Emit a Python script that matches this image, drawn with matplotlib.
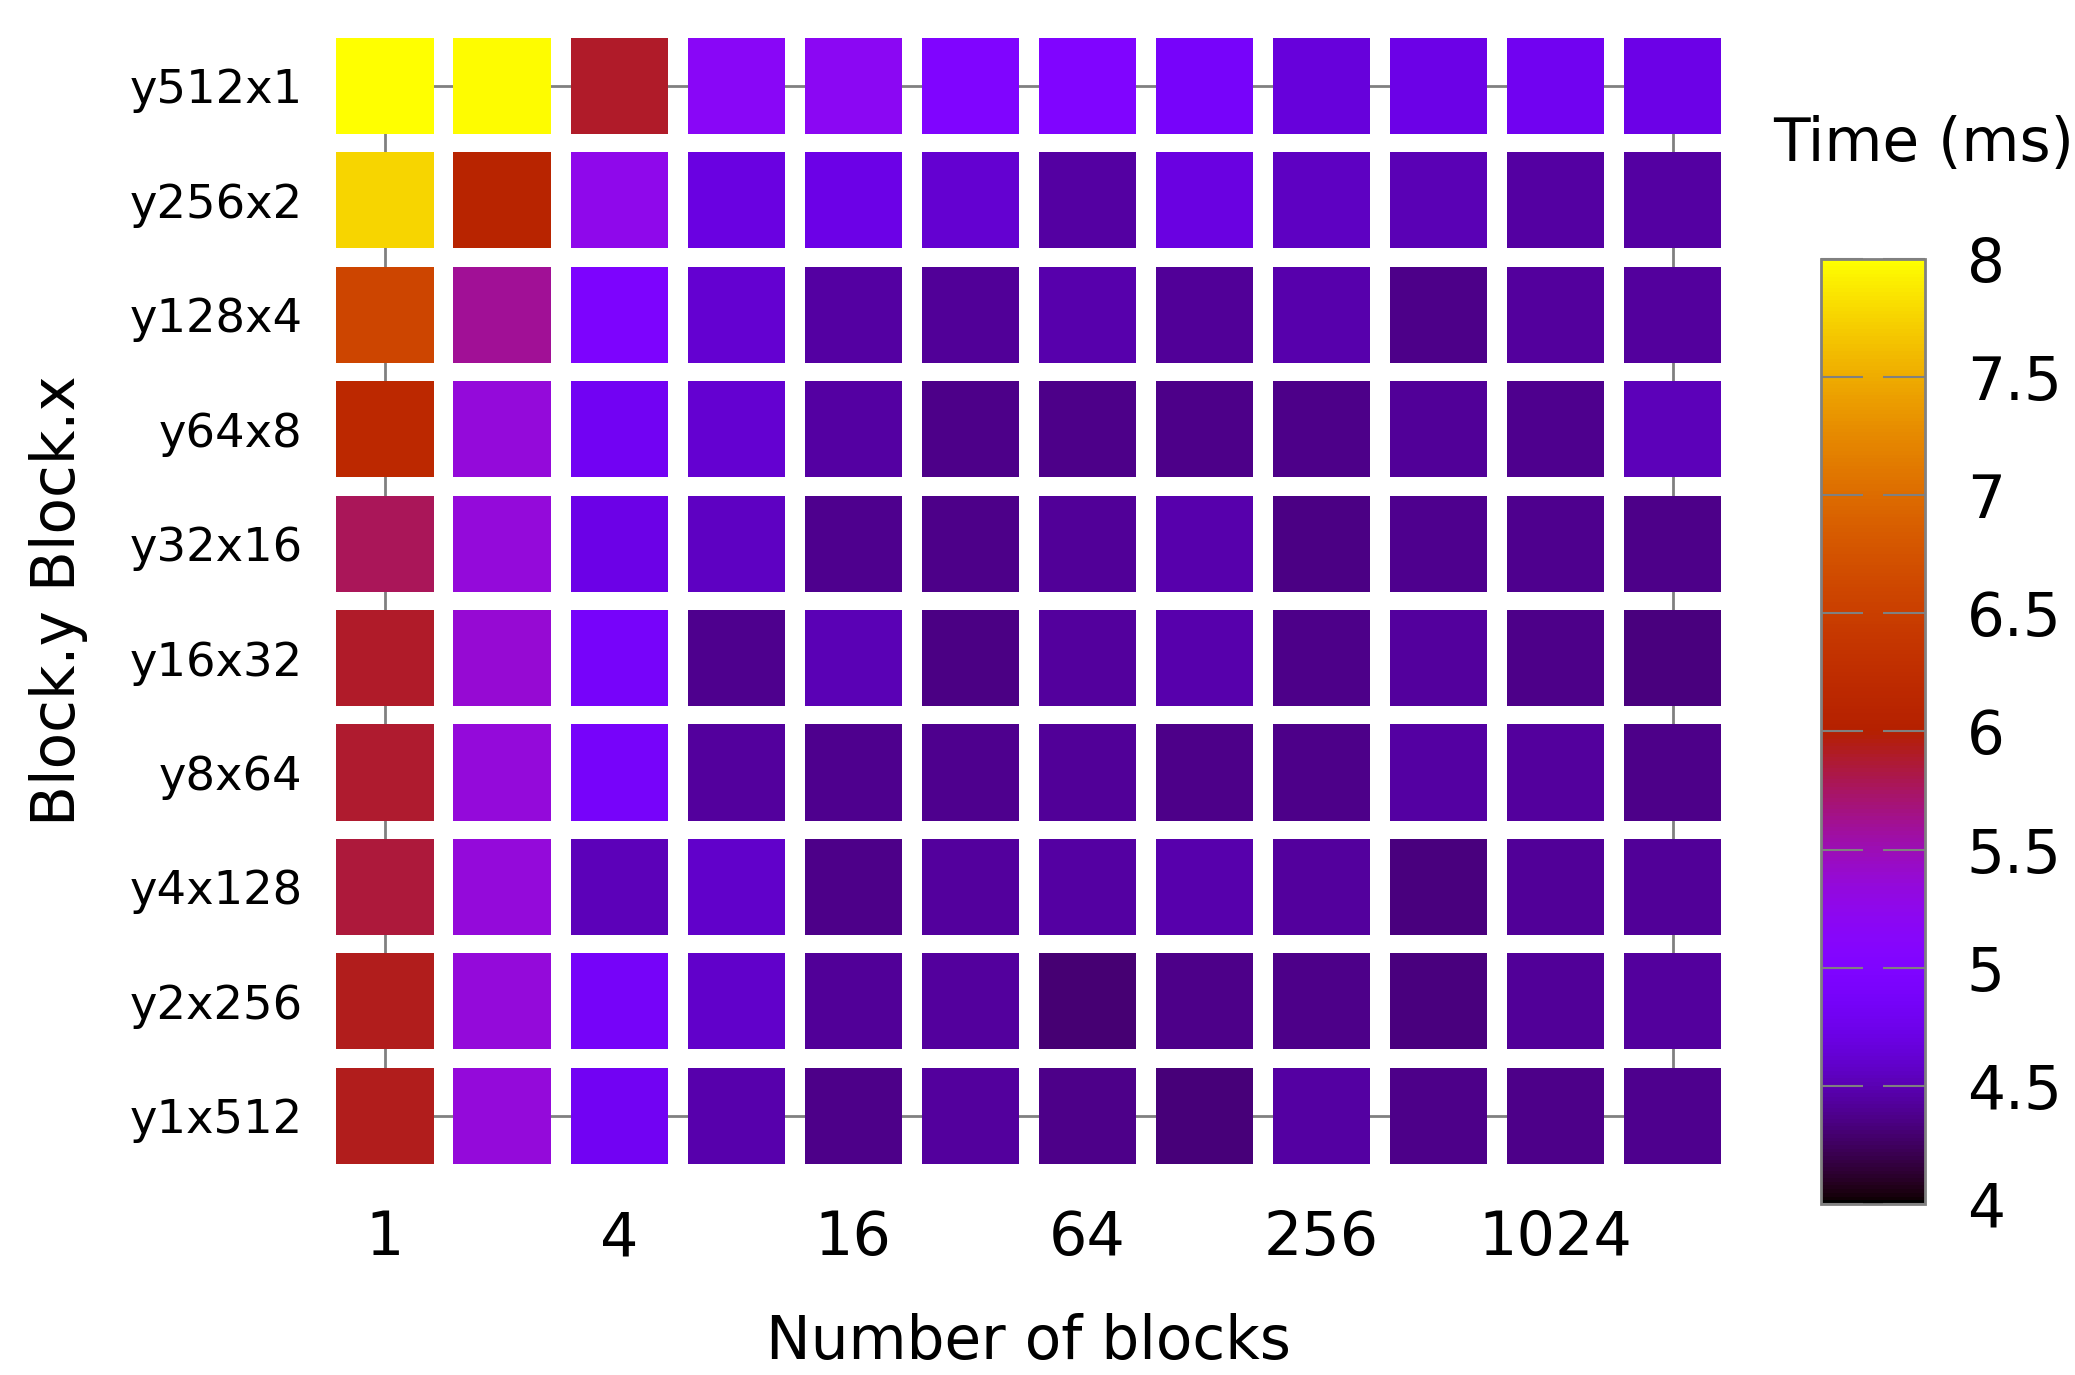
import numpy as np
import matplotlib.pyplot as plt
from matplotlib.patches import Rectangle
from matplotlib.colors import Normalize
from matplotlib.cm import ScalarMappable

# block shapes (rows) and number of blocks (columns)
block_shapes = ["y512x1", "y256x2", "y128x4", "y64x8", "y32x16",
                "y16x32", "y8x64", "y4x128", "y2x256", "y1x512"]
num_blocks = [1, 2, 4, 8, 16, 32, 64, 128, 256, 512, 1024, 2048]
xtick_labels = ["1", "4", "16", "64", "256", "1024"]

# time in ms, one row per block shape
t_y512x1 = [8.00, 7.98, 5.90, 5.17, 5.20, 5.00, 5.00, 4.89, 4.67, 4.72, 4.79, 4.72]
t_y256x2 = [7.75, 6.08, 5.26, 4.69, 4.72, 4.62, 4.44, 4.70, 4.56, 4.50, 4.45, 4.44]
t_y128x4 = [6.58, 5.60, 4.96, 4.62, 4.44, 4.41, 4.48, 4.42, 4.47, 4.37, 4.43, 4.43]
t_y64x8 = [6.17, 5.35, 4.80, 4.62, 4.44, 4.36, 4.37, 4.36, 4.37, 4.41, 4.39, 4.52]
t_y32x16 = [5.78, 5.35, 4.72, 4.56, 4.39, 4.36, 4.41, 4.48, 4.35, 4.39, 4.39, 4.37]
t_y16x32 = [5.90, 5.38, 4.89, 4.39, 4.50, 4.35, 4.43, 4.48, 4.36, 4.43, 4.36, 4.34]
t_y8x64 = [5.88, 5.35, 4.89, 4.43, 4.39, 4.39, 4.41, 4.37, 4.37, 4.44, 4.43, 4.37]
t_y4x128 = [5.85, 5.35, 4.52, 4.59, 4.36, 4.43, 4.45, 4.47, 4.43, 4.34, 4.41, 4.41]
t_y2x256 = [5.93, 5.35, 4.86, 4.59, 4.41, 4.43, 4.30, 4.36, 4.36, 4.34, 4.41, 4.43]
t_y1x512 = [5.93, 5.35, 4.80, 4.48, 4.37, 4.43, 4.37, 4.32, 4.45, 4.37, 4.37, 4.39]

times = np.array([t_y512x1, t_y256x2, t_y128x4, t_y64x8, t_y32x16,
                  t_y16x32, t_y8x64, t_y4x128, t_y2x256, t_y1x512])

cmap = plt.get_cmap("gnuplot")
norm = Normalize(vmin=4, vmax=8)

fig = plt.figure(figsize=(20.75, 13.75), dpi=100)
ax = fig.add_axes([0.1573, 0.1469, 0.6771, 0.8322])

nrow, ncol = times.shape
cw, ch = 0.83, 0.84

# grey border running through the outer cell centres, behind the cells
ax.add_patch(Rectangle((0, 0), ncol - 1, nrow - 1, fill=False,
                       edgecolor="#808080", lw=2, zorder=0))

for i in range(nrow):
    for j in range(ncol):
        ax.add_patch(Rectangle((j - cw / 2, i - ch / 2), cw, ch,
                               facecolor=cmap(norm(times[i, j])),
                               edgecolor="none", zorder=2))

ax.set_xlim(-0.5, ncol - 0.5)
ax.set_ylim(nrow - 0.5, -0.5)
for s in ax.spines.values():
    s.set_visible(False)

ax.set_xticks(range(0, ncol, 2))
ax.set_xticklabels(xtick_labels, fontsize=43.5)
ax.set_yticks(range(nrow))
ax.set_yticklabels(block_shapes, fontsize=33.5)
ax.tick_params(axis="x", length=0, pad=26)
ax.tick_params(axis="y", length=0, pad=17)

ax.set_xlabel("Number of blocks", fontsize=43, labelpad=32)
ax.set_ylabel("Block.y Block.x", fontsize=43, labelpad=30)

# colour scale
cax = fig.add_axes([0.8776, 0.1244, 0.0501, 0.6873])
sm = ScalarMappable(norm=norm, cmap=cmap)
cb = fig.colorbar(sm, cax=cax)
cb.outline.set_edgecolor("#808080")
cb.outline.set_linewidth(2)
cb_ticks = [4, 4.5, 5, 5.5, 6, 6.5, 7, 7.5, 8]
cb.set_ticks(cb_ticks)
cb.set_ticklabels(["4", "4.5", "5", "5.5", "6", "6.5", "7", "7.5", "8"])
cax.tick_params(direction="in", left=True, right=True, length=30,
                width=1.5, color="#808080", labelsize=43, pad=30)

fig.text(0.927, 0.895, "Time (ms)", fontsize=43, ha="center", va="center")

fig.savefig("out.png", dpi=100)
